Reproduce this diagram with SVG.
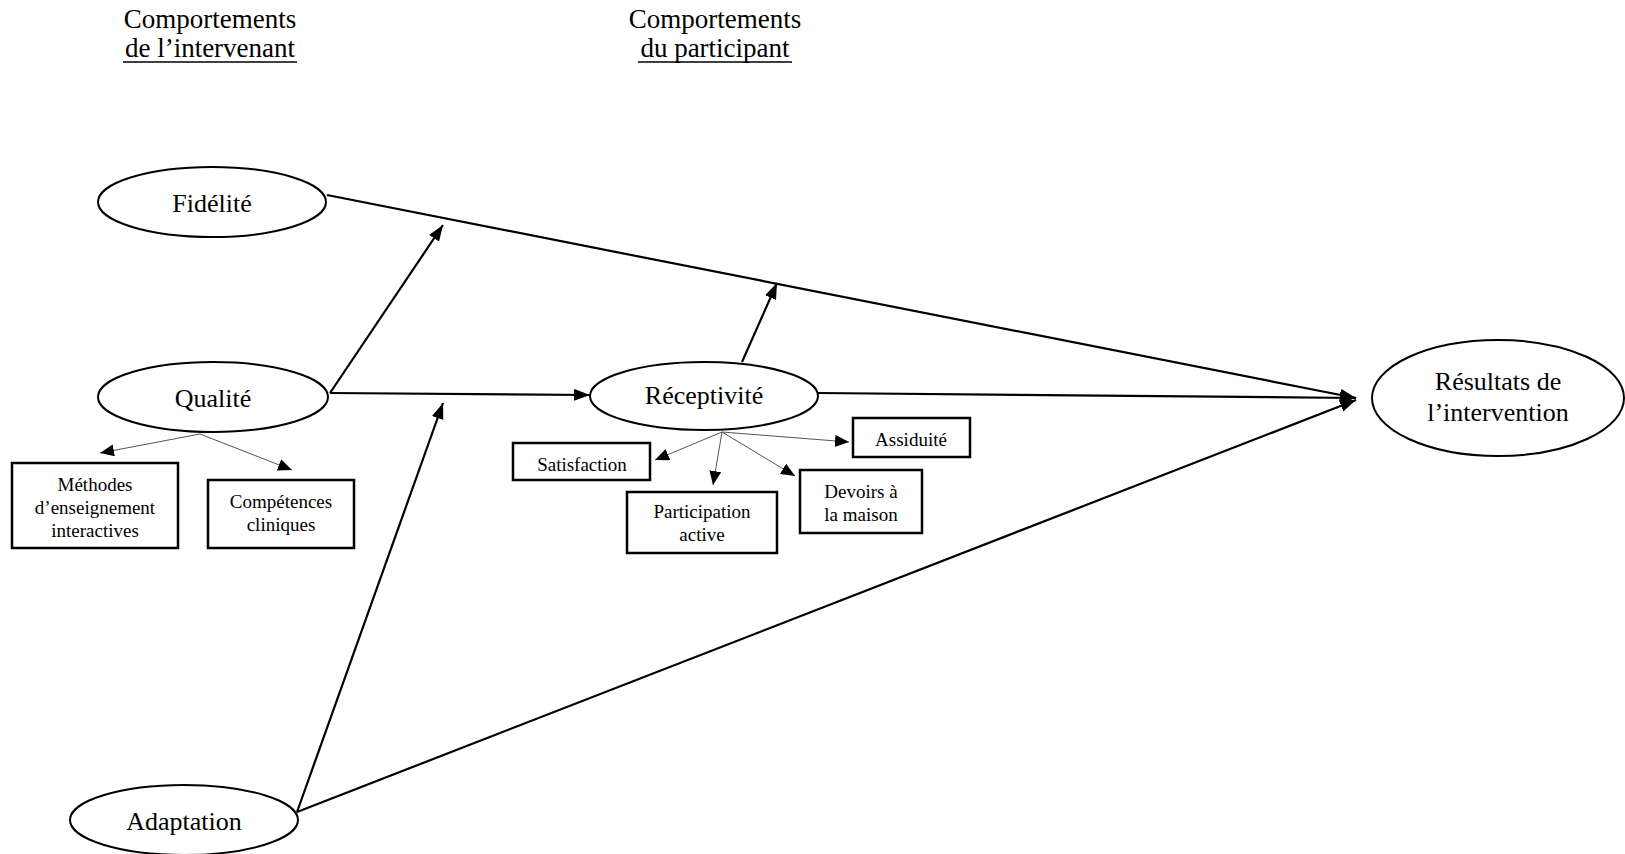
<svg xmlns="http://www.w3.org/2000/svg" width="1625" height="854" viewBox="0 0 1625 854">
<defs>
<style>
text{fill:#000;text-anchor:middle}
.big{font-size:26px}
.hdr{font-size:27px}
.sm{font-size:19px}
.node ellipse{fill:#fff;stroke:#000;stroke-width:2}
.box rect{fill:#fff;stroke:#000;stroke-width:2.5}
.main{stroke:#000;stroke-width:2.2;fill:none;marker-end:url(#ah)}
.sub{stroke:#555;stroke-width:1;fill:none;marker-end:url(#ahs)}
</style>
<marker id="ah" markerUnits="userSpaceOnUse" markerWidth="18" markerHeight="14" refX="16" refY="6" orient="auto">
<path d="M0,0 L16,6 L0,12 Z" fill="#000"/>
</marker>
<marker id="ahs" markerUnits="userSpaceOnUse" markerWidth="16" markerHeight="14" refX="14" refY="6" orient="auto">
<path d="M0,0 L14,6 L0,12 Z" fill="#000"/>
</marker>
</defs>
<rect width="1625" height="854" fill="#fff"/>
<g font-family="'Liberation Serif', 'DejaVu Serif', serif">
<g id="headers">
<text class="hdr" x="210" y="28">Comportements</text>
<text class="hdr" x="210" y="57">de l’intervenant</text>
<line x1="123" y1="62" x2="297" y2="62" stroke="#000" stroke-width="1.5"/>
<text class="hdr" x="715" y="28">Comportements</text>
<text class="hdr" x="715" y="57">du participant</text>
<line x1="638" y1="62" x2="792" y2="62" stroke="#000" stroke-width="1.5"/>
</g>

<g id="connectors">
<line class="main" x1="327" y1="195" x2="1356" y2="398"/>
<line class="main" x1="330" y1="393" x2="443" y2="225"/>
<line class="main" x1="330" y1="393" x2="590" y2="395"/>
<line class="main" x1="742" y1="362" x2="777" y2="283"/>
<line class="main" x1="818" y1="393" x2="1356" y2="398"/>
<line class="main" x1="297" y1="812" x2="443" y2="403"/>
<line class="main" x1="297" y1="812" x2="1356" y2="400"/>
<line class="sub" x1="200" y1="434" x2="100" y2="453"/>
<line class="sub" x1="200" y1="434" x2="292" y2="470"/>
<line class="sub" x1="722" y1="432" x2="655" y2="460"/>
<line class="sub" x1="722" y1="432" x2="713" y2="485"/>
<line class="sub" x1="722" y1="432" x2="795" y2="476"/>
<line class="sub" x1="722" y1="432" x2="849" y2="442"/>
</g>

<g id="fidelite" class="node">
<ellipse cx="212" cy="202" rx="114" ry="35"/>
<text class="big" x="212" y="212">Fidélité</text>
</g>
<g id="qualite" class="node">
<ellipse cx="213" cy="397" rx="115" ry="35"/>
<text class="big" x="213" y="407">Qualité</text>
</g>
<g id="receptivite" class="node">
<ellipse cx="704" cy="396" rx="114" ry="34"/>
<text class="big" x="704" y="404">Réceptivité</text>
</g>
<g id="resultats" class="node">
<ellipse cx="1498" cy="398" rx="126" ry="58"/>
<text class="big" x="1498" y="390">Résultats de</text>
<text class="big" x="1498" y="421">l’intervention</text>
</g>
<g id="adaptation" class="node">
<ellipse cx="184" cy="820" rx="114" ry="35"/>
<text class="big" x="184" y="830">Adaptation</text>
</g>

<g id="methodes" class="box">
<rect x="12" y="463" width="166" height="85"/>
<text class="sm" x="95" y="491">Méthodes</text>
<text class="sm" x="95" y="514">d’enseignement</text>
<text class="sm" x="95" y="537">interactives</text>
</g>
<g id="competences" class="box">
<rect x="208" y="480" width="146" height="68"/>
<text class="sm" x="281" y="508">Compétences</text>
<text class="sm" x="281" y="531">cliniques</text>
</g>
<g id="satisfaction" class="box">
<rect x="513" y="443" width="137" height="37"/>
<text class="sm" x="582" y="471">Satisfaction</text>
</g>
<g id="participation" class="box">
<rect x="627" y="492" width="150" height="61"/>
<text class="sm" x="702" y="518">Participation</text>
<text class="sm" x="702" y="541">active</text>
</g>
<g id="devoirs" class="box">
<rect x="800" y="470" width="122" height="63"/>
<text class="sm" x="861" y="498">Devoirs à</text>
<text class="sm" x="861" y="521">la maison</text>
</g>
<g id="assiduite" class="box">
<rect x="853" y="418" width="117" height="39"/>
<text class="sm" x="911" y="446">Assiduité</text>
</g>
</g>
</svg>
